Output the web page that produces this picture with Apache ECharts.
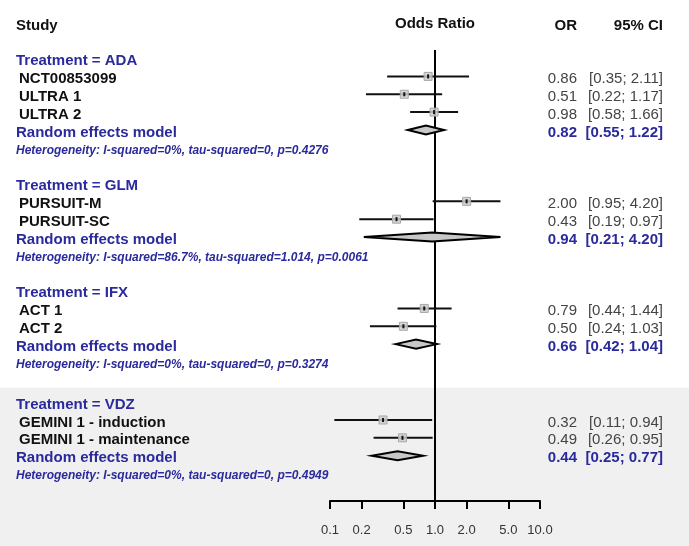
<!DOCTYPE html>
<html>
<head>
<meta charset="utf-8">
<script src="https://cdn.jsdelivr.net/npm/echarts@6/dist/echarts.min.js"></script>
<style>
  html, body { margin: 0; padding: 0; background: #fff; }
  #chart { width: 689px; height: 546px; }
</style>
</head>
<body>
<div id="chart"></div>
<script>
// study level data
const studies = ['NCT00853099', 'ULTRA 1', 'ULTRA 2', 'PURSUIT-M', 'PURSUIT-SC', 'ACT 1', 'ACT 2', 'GEMINI 1 - induction', 'GEMINI 1 - maintenance'];
const studyGroup = [0, 0, 0, 1, 1, 2, 2, 3, 3];
const studyOR = [0.86, 0.51, 0.98, 2.00, 0.43, 0.79, 0.50, 0.32, 0.49];
const studyLower = [0.35, 0.22, 0.58, 0.95, 0.19, 0.44, 0.24, 0.11, 0.26];
const studyUpper = [2.11, 1.17, 1.66, 4.20, 0.97, 1.44, 1.03, 0.94, 0.95];

// subgroup (random effects) data
const groups = ['ADA', 'GLM', 'IFX', 'VDZ'];
const groupOR = [0.82, 0.94, 0.66, 0.44];
const groupLower = [0.55, 0.21, 0.42, 0.25];
const groupUpper = [1.22, 4.20, 1.04, 0.77];
const heterogeneity = [
  'I-squared=0%, tau-squared=0, p=0.4276',
  'I-squared=86.7%, tau-squared=1.014, p=0.0061',
  'I-squared=0%, tau-squared=0, p=0.3274',
  'I-squared=0%, tau-squared=0, p=0.4949'
];

// x axis ticks
const tickValues = [0.1, 0.2, 0.5, 1, 2, 5, 10];
const tickLabels = ['0.1', '0.2', '0.5', '1.0', '2.0', '5.0', '10.0'];

const FONT = '"Liberation Sans", Arial, sans-serif';
const BLUE = '#2a2a9c';
const lg = Math.log10;

// row layout (one row per text line, blank row between subgroups)
let row = 0;
const studyRows = [];
const groupRows = [];
groups.forEach((g, gi) => {
  if (gi === 3) row += 0.25; // shaded band sits a bit lower
  const hdr = row;
  let r = row + 1;
  studyGroup.forEach((sg, si) => { if (sg === gi) studyRows[si] = r++; });
  groupRows.push({ hdr: hdr, re: r, het: r + 1 });
  row = r + 3;
});
const yMin = -0.48, yMax = 24.79;

const studyData = studies.map((s, i) => [lg(studyLower[i]), lg(studyUpper[i]), lg(studyOR[i]), studyRows[i]]);
const groupData = groups.map((g, i) => [lg(groupLower[i]), lg(groupUpper[i]), lg(groupOR[i]), groupRows[i].re]);

const chart = echarts.init(document.getElementById('chart'));

chart.setOption({
  animation: false,
  grid: { left: 330, width: 210, top: 50, bottom: 45 },
  xAxis: {
    type: 'value',
    min: -1,
    max: 1,
    splitLine: { show: false },
    axisLine: { onZero: false, lineStyle: { color: '#000', width: 2 } },
    axisTick: { show: true, customValues: tickValues.map(lg), length: 8, lineStyle: { color: '#000', width: 2 } },
    axisLabel: {
      customValues: tickValues.map(lg),
      margin: 23,
      color: '#333',
      fontSize: 13,
      fontFamily: FONT,
      formatter(v) {
        let k = 0;
        tickValues.forEach((t, i) => { if (Math.abs(lg(t) - v) < Math.abs(lg(tickValues[k]) - v)) k = i; });
        return tickLabels[k];
      }
    }
  },
  yAxis: { type: 'value', inverse: true, min: yMin, max: yMax, show: false },
  series: [
    {
      type: 'line',
      data: [[0, yMin], [0, yMax]],
      symbol: 'none',
      lineStyle: { color: '#000', width: 2 },
      silent: true,
      z: 1
    },
    {
      type: 'custom',
      data: studyData,
      encode: { x: [0, 1, 2], y: 3 },
      z: 3,
      renderItem(params, api) {
        const lo = api.coord([api.value(0), api.value(3)]);
        const hi = api.coord([api.value(1), api.value(3)]);
        const est = api.coord([api.value(2), api.value(3)]);
        return {
          type: 'group',
          children: [
            { type: 'line', shape: { x1: lo[0], y1: lo[1], x2: hi[0], y2: hi[1] }, style: { stroke: '#111', lineWidth: 2 } },
            { type: 'rect', shape: { x: est[0] - 4, y: est[1] - 4, width: 8, height: 8 }, style: { fill: 'rgba(205,205,205,0.85)', stroke: '#a8a8a8', lineWidth: 1 } },
            { type: 'rect', shape: { x: est[0] - 1, y: est[1] - 2, width: 2, height: 4 }, style: { fill: '#111' } }
          ]
        };
      }
    },
    {
      type: 'custom',
      data: groupData,
      encode: { x: [0, 1, 2], y: 3 },
      z: 3,
      renderItem(params, api) {
        const lo = api.coord([api.value(0), api.value(3)]);
        const hi = api.coord([api.value(1), api.value(3)]);
        const est = api.coord([api.value(2), api.value(3)]);
        const h = 4.5;
        return {
          type: 'polygon',
          shape: { points: [[lo[0], lo[1]], [est[0], est[1] - h], [hi[0], hi[1]], [est[0], est[1] + h]] },
          style: { fill: '#c8c8c8', stroke: '#000', lineWidth: 2 }
        };
      }
    }
  ]
});

// text columns, placed on the same row scale
const py = r => chart.convertToPixel({ yAxisIndex: 0 }, r) + 2.5;
const txt = (text, x, y, opt) => ({
  type: 'text', x: x, y: y, z: 100, silent: true,
  style: Object.assign({
    text: text, fill: '#111', align: 'left', verticalAlign: 'middle',
    font: 'bold 15px ' + FONT
  }, opt || {})
});
const fmt = v => v.toFixed(2);
const ci = (a, b) => '[' + fmt(a) + '; ' + fmt(b) + ']';

const els = [];
const bandY = chart.convertToPixel({ yAxisIndex: 0 }, groupRows[3].hdr - 0.8);
els.push({ type: 'rect', z: -10, silent: true, shape: { x: 0, y: bandY, width: 689, height: 546 - bandY }, style: { fill: '#f0f0f0' } });

els.push(txt('Study', 16, 26));
els.push(txt('Odds Ratio', 435, 24, { align: 'center' }));
els.push(txt('OR', 577, 26, { align: 'right' }));
els.push(txt('95% CI', 663, 26, { align: 'right' }));

groups.forEach((g, gi) => {
  const gr = groupRows[gi];
  els.push(txt('Treatment = ' + g, 16, py(gr.hdr), { fill: BLUE }));
  els.push(txt('Random effects model', 16, py(gr.re), { fill: BLUE }));
  els.push(txt('Heterogeneity: ' + heterogeneity[gi], 16, py(gr.het), { fill: BLUE, font: 'italic bold 12px ' + FONT }));
  els.push(txt(fmt(groupOR[gi]), 577, py(gr.re), { fill: BLUE, align: 'right', font: 'bold 15px ' + FONT }));
  els.push(txt(ci(groupLower[gi], groupUpper[gi]), 663, py(gr.re), { fill: BLUE, align: 'right', font: 'bold 15px ' + FONT }));
});

studies.forEach((s, i) => {
  els.push(txt(s, 19, py(studyRows[i])));
  els.push(txt(fmt(studyOR[i]), 577, py(studyRows[i]), { fill: '#444', align: 'right', font: '15px ' + FONT }));
  els.push(txt(ci(studyLower[i], studyUpper[i]), 663, py(studyRows[i]), { fill: '#444', align: 'right', font: '15px ' + FONT }));
});

chart.setOption({ graphic: { elements: els } });
</script>
</body>
</html>
